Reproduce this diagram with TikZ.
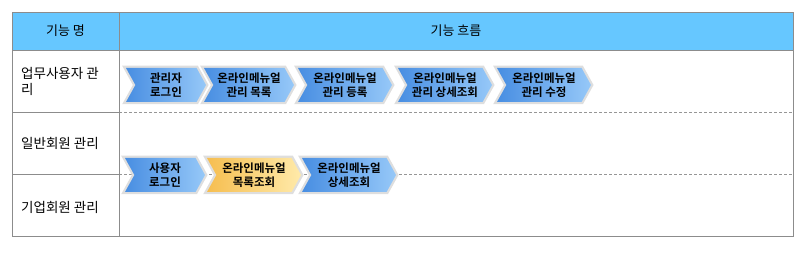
\documentclass[tikz,border=0pt]{standalone}
\usepackage{fontspec}
\setmainfont{Noto Sans CJK KR}
\newfontfamily\krb{Noto Sans CJK KR Bold}
\usetikzlibrary{shapes.symbols}
\definecolor{hdr}{RGB}{102,199,255}
\definecolor{bord}{RGB}{140,140,140}
\definecolor{dsh}{RGB}{150,150,150}
\definecolor{bL}{RGB}{72,142,226}
\definecolor{bR}{RGB}{150,200,248}
\definecolor{yL}{RGB}{246,190,80}
\definecolor{yR}{RGB}{255,234,170}
\definecolor{glow}{RGB}{222,222,222}
\tikzset{
  chev/.style={signal, signal to=east, signal from=west, signal pointer angle=122,
    minimum height=34pt, inner sep=0pt, align=center,
    font=\krb\fontsize{11.5}{13.5}\selectfont, text=black,
    preaction={draw=glow, line width=4.5pt, line join=miter},
    left color=bL, right color=bR, shading angle=90},
  ychev/.style={chev, left color=yL, right color=yR},
  lbl/.style={font=\fontsize{13.5}{16}\selectfont, anchor=west, align=left, inner sep=0pt},
  hd/.style={font=\fontsize{13}{15}\selectfont, inner sep=0pt},
  solidln/.style={draw=bord, line width=0.9pt},
  dashln/.style={draw=dsh, line width=0.6pt, dash pattern=on 3pt off 2pt}
}
\begin{document}
\begin{tikzpicture}[x=1pt,y=-1pt]
\useasboundingbox (0,0) rectangle (801,253);
\fill[hdr] (12,12) rectangle (793,50);
% lines
\draw[dashln] (119,112) -- (793,112);
\draw[dashln] (119,174) -- (793,174);
\draw[solidln] (12,112) -- (119,112);
\draw[solidln] (12,174) -- (119,174);
\draw[solidln] (12,50) -- (793,50);
\draw[solidln] (119,12) -- (119,236);
\draw[solidln] (12,12) rectangle (793,236);
% header
\node[hd] (h1) at (65.5,31) {기능 명};
\node[hd] (h2) at (456,31) {기능 흐름};
% row labels
\node[lbl] (r1) at (21,81) {업무사용자 관\\리};
\node[lbl] (r2) at (21,143) {일반회원 관리};
\node[lbl] (r3) at (21,207) {기업회원 관리};
% row 1 chevrons
\node[chev, minimum width=80pt] (a1) at (166,85) {관리자\\로그인};
\node[chev, minimum width=90pt] (a2) at (249,85) {온라인메뉴얼\\관리 목록};
\node[chev, minimum width=94pt] (a3) at (345,85) {온라인메뉴얼\\관리 등록};
\node[chev, minimum width=94pt] (a4) at (445,85) {온라인메뉴얼\\관리 상세조회};
\node[chev, minimum width=94pt] (a5) at (544,85) {온라인메뉴얼\\관리 수정};
% row 2 chevrons
\node[chev, minimum width=80pt] (b1) at (165,175) {사용자\\로그인};
\node[ychev, minimum width=94pt] (b2) at (254,175) {온라인메뉴얼\\목록조회};
\node[chev, minimum width=94pt] (b3) at (349,175) {온라인메뉴얼\\상세조회};
\end{tikzpicture}
\end{document}
